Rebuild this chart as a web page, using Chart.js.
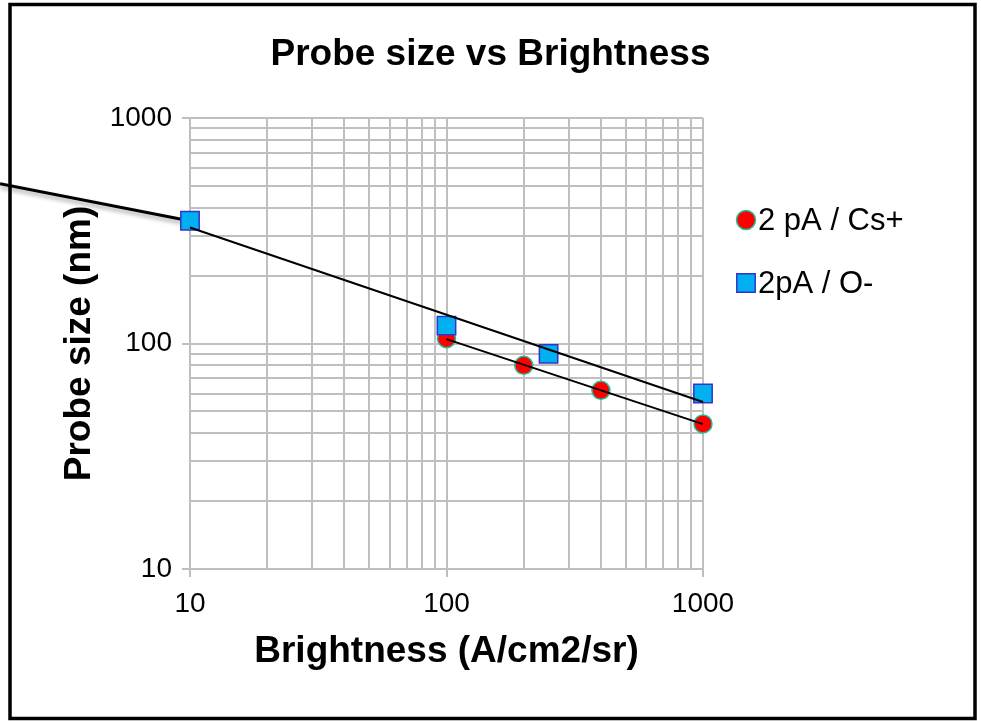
<!DOCTYPE html>
<html>
<head>
<meta charset="utf-8">
<script src="https://cdn.jsdelivr.net/npm/chart.js@4.4.1/dist/chart.umd.min.js"></script>
<style>
  html, body { margin: 0; padding: 0; background: #fff; }
  #wrap { width: 981px; height: 721px; }
</style>
</head>
<body>
<div id="wrap"><canvas id="probeChart"></canvas></div>
<script>
// values
var csBrightness = [100, 200, 400, 1000];
var csProbe = [105, 80, 62, 44];
var oBrightness = [10, 100, 250, 1000];
var oProbe = [350, 120, 90, 60];
var xTicks = [10, 100, 1000];
var yTicks = [10, 100, 1000];
var seriesLabels = ["2 pA / Cs+", "2pA / O-"];

var gridGray = "#bfbfbf";
Chart.defaults.font.family = "'Liberation Sans', Arial, sans-serif";
Chart.defaults.color = "#000";

function points(xs, ys) {
  return xs.map(function (x, i) { return { x: x, y: ys[i] }; });
}

// power trendline (least squares in log-log space), like excel does
function powerTrend(xs, ys) {
  var lx = xs.map(Math.log10), ly = ys.map(Math.log10);
  var n = xs.length, mx = 0, my = 0;
  for (var i = 0; i < n; i++) { mx += lx[i] / n; my += ly[i] / n; }
  var sxy = 0, sxx = 0;
  for (var j = 0; j < n; j++) {
    sxy += (lx[j] - mx) * (ly[j] - my);
    sxx += (lx[j] - mx) * (lx[j] - mx);
  }
  var b = sxy / sxx, a = my - b * mx;
  return [xs[0], xs[n - 1]].map(function (x) {
    return { x: x, y: Math.pow(10, a + b * Math.log10(x)) };
  });
}

// 1..9 x each decade, so every minor grid line is there
function logTicks(decades) {
  var out = [];
  for (var d = 0; d < decades.length - 1; d++) {
    for (var k = 1; k < 10; k++) out.push({ value: k * decades[d] });
  }
  out.push({ value: decades[decades.length - 1] });
  return out;
}

function isDecade(v) {
  return Math.abs(Math.log10(v) - Math.round(Math.log10(v))) < 1e-9;
}

var markerStyle = [
  { pointStyle: "circle", pointRadius: 9, backgroundColor: "#ff0000", borderColor: "#1fbf98", borderWidth: 1.5 },
  { pointStyle: "rect", pointRadius: 13, backgroundColor: "#00b0f0", borderColor: "#3333cc", borderWidth: 1.5 }
];

// the callout line coming in from the left to the first O- point
var calloutLine = {
  id: "calloutLine",
  beforeDatasetsDraw: function (chart) {
    var p = chart.getDatasetMeta(1).data[0];
    if (!p) return;
    var ctx = chart.ctx;
    ctx.save();
    ctx.strokeStyle = "#000";
    ctx.lineWidth = 3;
    ctx.shadowColor = "rgba(0,0,0,0.35)";
    ctx.shadowBlur = 4;
    ctx.shadowOffsetY = 3;
    ctx.beginPath();
    ctx.moveTo(0, p.y - p.x * 0.195);
    ctx.lineTo(p.x - 6, p.y - 1);
    ctx.stroke();
    ctx.restore();
  }
};

// legend on the right + outer frame
var sideLegend = {
  id: "sideLegend",
  afterDraw: function (chart) {
    var ctx = chart.ctx, area = chart.chartArea;
    ctx.save();
    ctx.font = "31px 'Liberation Sans', Arial, sans-serif";
    ctx.textBaseline = "middle";
    seriesLabels.forEach(function (label, i) {
      var y = area.top + 102 + i * 63;
      var x = area.right + 43;
      var st = markerStyle[i];
      ctx.fillStyle = st.backgroundColor;
      ctx.strokeStyle = st.borderColor;
      ctx.lineWidth = st.borderWidth;
      Chart.helpers.drawPoint(ctx, { pointStyle: st.pointStyle, radius: st.pointStyle === "rect" ? 13 : 9.5, borderWidth: st.borderWidth }, x, y);
      ctx.fillStyle = "#000";
      ctx.fillText(label, x + 12, y + 1);
    });
    ctx.strokeStyle = "#000";
    ctx.lineWidth = 3.5;
    ctx.strokeRect(10, 4.5, 965, 714);
    ctx.restore();
  }
};

new Chart("probeChart", {
  type: "scatter",
  data: {
    datasets: [
      Object.assign({ label: seriesLabels[0], data: points(csBrightness, csProbe), order: 2, clip: false }, markerStyle[0]),
      Object.assign({ label: seriesLabels[1], data: points(oBrightness, oProbe), order: 1, clip: false }, markerStyle[1]),
      {
        label: "Cs trend",
        data: powerTrend(csBrightness, csProbe),
        showLine: true, pointRadius: 0, borderColor: "#000", borderWidth: 2, order: 0, clip: false
      },
      {
        label: "O trend",
        data: powerTrend(oBrightness, oProbe),
        showLine: true, pointRadius: 0, borderColor: "#000", borderWidth: 2, order: 0, clip: false
      }
    ]
  },
  options: {
    responsive: true,
    maintainAspectRatio: false,
    animation: false,
    layout: { padding: { left: 0, right: 0, top: 0, bottom: 22 } },
    plugins: {
      legend: { display: false },
      tooltip: { enabled: false },
      title: {
        display: true,
        text: "Probe size vs Brightness",
        font: { size: 37, weight: "bold" },
        color: "#000",
        padding: { top: 33, bottom: 40.6 }
      }
    },
    scales: {
      x: {
        type: "logarithmic",
        min: xTicks[0],
        max: xTicks[xTicks.length - 1],
        afterBuildTicks: function (s) { s.ticks = logTicks(xTicks); },
        afterFit: function (s) { s.height = 130; },
        ticks: {
          autoSkip: false,
          maxRotation: 0,
          padding: 10,
          font: { size: 28 },
          color: "#000",
          callback: function (v) { return isDecade(v) ? String(v) : ""; }
        },
        grid: {
          color: gridGray,
          lineWidth: 2,
          tickLength: 8,
          tickColor: function (c) { return c.tick && isDecade(c.tick.value) ? gridGray : "rgba(0,0,0,0)"; }
        },
        border: { color: gridGray, width: 2 },
        title: {
          display: true,
          text: "Brightness (A/cm2/sr)",
          font: { size: 37, weight: "bold" },
          color: "#000",
          padding: { top: 0, bottom: 25 }
        }
      },
      y: {
        type: "logarithmic",
        min: yTicks[0],
        max: yTicks[yTicks.length - 1],
        afterBuildTicks: function (s) { s.ticks = logTicks(yTicks); },
        afterFit: function (s) { s.width = 190; },
        ticks: {
          autoSkip: false,
          padding: 10,
          font: { size: 28 },
          color: "#000",
          callback: function (v) { return isDecade(v) ? String(v) : ""; }
        },
        grid: {
          color: gridGray,
          lineWidth: 2,
          tickLength: 8,
          tickColor: function (c) { return c.tick && isDecade(c.tick.value) ? gridGray : "rgba(0,0,0,0)"; }
        },
        border: { color: gridGray, width: 2 },
        title: {
          display: true,
          text: "Probe size (nm)",
          font: { size: 37, weight: "bold" },
          color: "#000",
          padding: { top: 58, bottom: 0 }
        }
      },
      // empty right-hand axis, only reserves the room where the legend sits
      legendRoom: {
        position: "right",
        type: "linear",
        afterFit: function (s) { s.width = 278; },
        ticks: { display: false },
        grid: { display: false, drawTicks: false },
        border: { display: false }
      }
    }
  },
  plugins: [calloutLine, sideLegend]
});
</script>
</body>
</html>
